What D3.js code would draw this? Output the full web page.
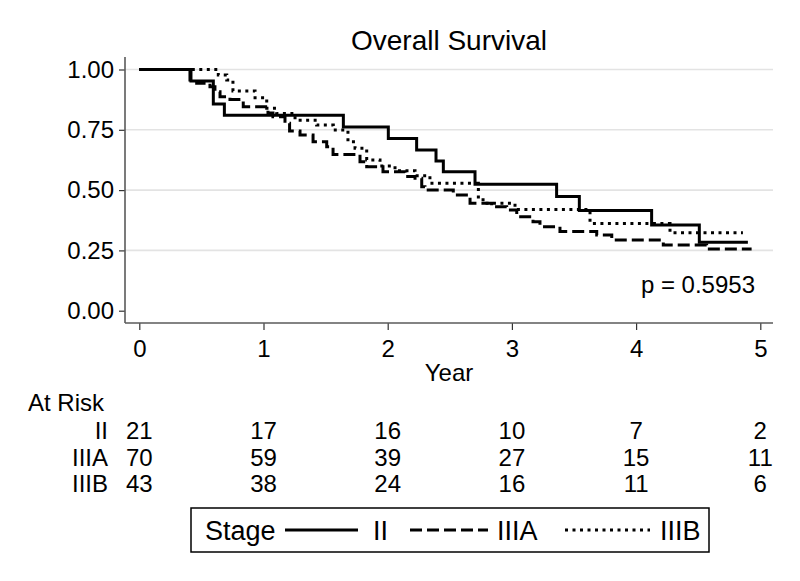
<!DOCTYPE html>
<html><head><meta charset="utf-8">
<script src="https://cdn.jsdelivr.net/npm/d3@7"></script>
<style>
html,body{margin:0;padding:0;background:#fff;}
svg{display:block;font-family:"Liberation Sans",Arial,sans-serif;}
</style></head>
<body><svg id="chart" width="800" height="581"></svg>
<script>
// ---- data ----
const years = [0, 1, 2, 3, 4, 5];
const yTicks = [0, 0.25, 0.5, 0.75, 1];
const stages = ["II", "IIIA", "IIIB"];
const atRiskII = [21, 17, 16, 10, 7, 2];
const atRiskIIIA = [70, 59, 39, 27, 15, 11];
const atRiskIIIB = [43, 38, 24, 16, 11, 6];

const timeII = [0, 0.416, 0.596, 0.685, 1.643, 2.005, 2.233, 2.389, 2.448, 2.703, 3.36, 3.543, 4.125, 4.509, 4.90];
const survII = [1, 0.952, 0.857, 0.810, 0.762, 0.714, 0.666, 0.621, 0.576, 0.524, 0.473, 0.415, 0.355, 0.284, 0.284];

const timeIIIA = [0, 0.408, 0.462, 0.569, 0.609, 0.650, 0.730, 0.837, 1.036, 1.076, 1.173, 1.21, 1.294, 1.399, 1.509, 1.56, 1.777, 1.831, 1.962, 2.139, 2.22, 2.274, 2.30, 2.528, 2.663, 2.837, 2.958, 3.039, 3.17, 3.226, 3.387, 3.683, 3.804, 4.219, 4.568, 4.93];
const survIIIA = [1, 0.956, 0.943, 0.929, 0.908, 0.887, 0.876, 0.846, 0.82, 0.804, 0.777, 0.745, 0.728, 0.70, 0.68, 0.648, 0.618, 0.597, 0.576, 0.556, 0.549, 0.514, 0.50, 0.48, 0.445, 0.431, 0.418, 0.39, 0.369, 0.348, 0.328, 0.314, 0.293, 0.272, 0.256, 0.256];

const timeIIIB = [0, 0.636, 0.704, 0.754, 0.932, 1.026, 1.106, 1.254, 1.428, 1.562, 1.68, 1.737, 1.831, 1.938, 2.059, 2.22, 2.34, 2.73, 2.80, 3.025, 3.629, 4.273, 4.86];
const survIIIB = [1, 0.977, 0.956, 0.911, 0.883, 0.839, 0.818, 0.79, 0.77, 0.749, 0.70, 0.673, 0.625, 0.60, 0.58, 0.56, 0.528, 0.46, 0.445, 0.42, 0.362, 0.323, 0.323];

const pText = "p = 0.5953";

// ---- layout ----
const svg = d3.select("#chart");
const x = d3.scaleLinear().domain([0, 5]).range([139.3, 760.3]);
const y = d3.scaleLinear().domain([0, 1]).range([310.7, 69.5]);
const axisX0 = 125, axisX1 = 773, axisYtop = 57, axisYbot = 323;
const axisColor = "#5a5a5a";

svg.append("rect").attr("width", 800).attr("height", 581).attr("fill", "#fff");

// gridlines
svg.append("g").selectAll("line").data(yTicks.filter(d => d > 0)).join("line")
  .attr("x1", axisX0).attr("x2", axisX1)
  .attr("y1", d => y(d)).attr("y2", d => y(d))
  .attr("stroke", "#e3e3e3").attr("stroke-width", 1.6);

// y axis
const yAxis = d3.axisLeft(y).tickValues(yTicks).tickFormat(d3.format(".2f")).tickSize(6).tickPadding(5);
const gy = svg.append("g").attr("transform", `translate(${axisX0},0)`).call(yAxis);
gy.select(".domain").remove();
gy.selectAll(".tick line").attr("stroke", "#333").attr("stroke-width", 1.2);
gy.selectAll(".tick text").attr("font-size", 24).attr("fill", "#000").attr("font-family", "Liberation Sans, Arial, sans-serif");
svg.append("line").attr("x1", axisX0).attr("x2", axisX0).attr("y1", axisYtop).attr("y2", axisYbot)
  .attr("stroke", axisColor).attr("stroke-width", 1.6);

// x axis
const xAxis = d3.axisBottom(x).tickValues(years).tickFormat(d3.format("d")).tickSize(7).tickPadding(10);
const gx = svg.append("g").attr("transform", `translate(0,${axisYbot})`).call(xAxis);
gx.select(".domain").remove();
gx.selectAll(".tick line").attr("stroke", "#333").attr("stroke-width", 1.2);
gx.selectAll(".tick text").attr("font-size", 24).attr("fill", "#000").attr("font-family", "Liberation Sans, Arial, sans-serif");
svg.append("line").attr("x1", axisX0).attr("x2", axisX1).attr("y1", axisYbot).attr("y2", axisYbot)
  .attr("stroke", axisColor).attr("stroke-width", 1.6);

// title / labels
svg.append("text").attr("x", 449).attr("y", 50).attr("text-anchor", "middle")
  .attr("font-size", 28).text("Overall Survival");
svg.append("text").attr("x", 449).attr("y", 381).attr("text-anchor", "middle")
  .attr("font-size", 24).text("Year");
svg.append("text").attr("x", 755).attr("y", 293).attr("text-anchor", "end")
  .attr("font-size", 24).text(pText);

// curves
const series = [
  {name: "II", t: timeII, s: survII, dash: null},
  {name: "IIIA", t: timeIIIA, s: survIIIA, dash: "12,5"},
  {name: "IIIB", t: timeIIIB, s: survIIIB, dash: "3,4.5"}
];
const line = d3.line().x(d => x(d[0])).y(d => y(d[1])).curve(d3.curveStepAfter);
svg.append("g").selectAll("path").data(series).join("path")
  .attr("d", d => line(d.t.map((t, i) => [t, d.s[i]])))
  .attr("fill", "none").attr("stroke", "#000").attr("stroke-width", 3)
  .attr("stroke-dasharray", d => d.dash);

// at risk table
svg.append("text").attr("x", 28).attr("y", 411).attr("font-size", 24).text("At Risk");
const tables = [atRiskII, atRiskIIIA, atRiskIIIB];
const rowY = [439, 466, 492];
stages.forEach((st, r) => {
  svg.append("text").attr("x", 108).attr("y", rowY[r]).attr("text-anchor", "end")
    .attr("font-size", 24).text(st);
  svg.append("g").selectAll("text").data(tables[r]).join("text")
    .attr("x", (d, i) => x(years[i])).attr("y", rowY[r]).attr("text-anchor", "middle")
    .attr("font-size", 24).text(d => d);
});

// legend
const lg = svg.append("g");
lg.append("rect").attr("x", 191).attr("y", 508).attr("width", 518).attr("height", 44)
  .attr("fill", "#fff").attr("stroke", "#000").attr("stroke-width", 1.5);
lg.append("text").attr("x", 205).attr("y", 540).attr("font-size", 27).text("Stage");
const legItems = [
  {name: "II", x1: 285, x2: 358, tx: 373},
  {name: "IIIA", x1: 410, x2: 488, tx: 497},
  {name: "IIIB", x1: 565, x2: 650, tx: 660}
];
legItems.forEach((it, i) => {
  lg.append("line").attr("x1", it.x1).attr("x2", it.x2).attr("y1", 530).attr("y2", 530)
    .attr("stroke", "#000").attr("stroke-width", 3).attr("stroke-dasharray", series[i].dash);
  lg.append("text").attr("x", it.tx).attr("y", 540).attr("font-size", 27).text(it.name);
});
</script></body></html>
